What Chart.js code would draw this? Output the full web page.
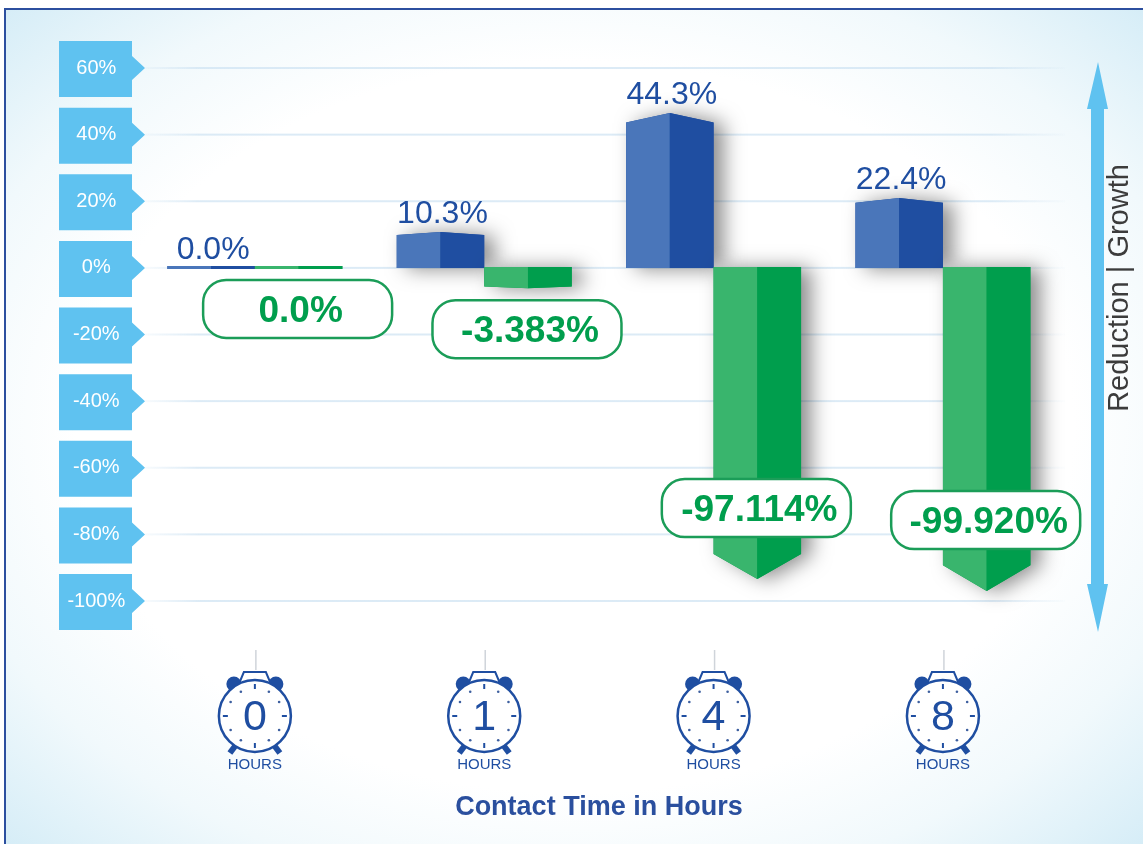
<!DOCTYPE html>
<html>
<head>
<meta charset="utf-8">
<title>Contact Time in Hours</title>
<script src="https://cdn.jsdelivr.net/npm/chart.js@4"></script>
<style>
    html, body { margin: 0; padding: 0; background: #fff; overflow: hidden; }
    #frame {
        position: absolute; left: 4px; top: 8px; width: 1139px; height: 836px;
        box-sizing: border-box;
        border-top: 2.5px solid #2c4f9f; border-left: 2.5px solid #2c4f9f;
        background: radial-gradient(ellipse farthest-corner at 50% 50%, #ffffff 62%, #f1f9fc 80%, #d6edf7 100%);
    }
    canvas { position: absolute; left: 0; top: 0; }
</style>
</head>
<body>
<div id="frame"></div>
<canvas id="chart" width="1143" height="844"></canvas>
<script>
'use strict'

// values
const hours = ["0", "1", "4", "8"];
const yTicks = [60, 40, 20, 0, -20, -40, -60, -80, -100];
// bar heights as they are drawn in the picture (peak / tip of each bar, in %)
const growthBars = [0, 10.8, 46.5, 21];
const reductionBars = [0, -6.1, -93.4, -97];
// the printed labels, which do not quite agree with the drawn heights
const growthLabels = ["0.0%", "10.3%", "44.3%", "22.4%"];
const reductionLabels = ["0.0%", "-3.383%", "-97.114%", "-99.920%"];

const FONT = "'Liberation Sans', Arial, sans-serif";
const NAVY = "#1f4ea1";
const SKY = "#5fc2f0";
const BLUE_LIGHT = "#4a76ba";
const GREEN_LIGHT = "#39b56d";
const GREEN_DARK = "#009e4d";

function polygon(ctx, pts, color) {
    ctx.fillStyle = color;
    ctx.beginPath();
    pts.forEach((p, i) => i ? ctx.lineTo(p[0], p[1]) : ctx.moveTo(p[0], p[1]));
    ctx.closePath();
    ctx.fill();
}

// flag shaped tick backgrounds on the left
function drawFlags(chart) {
    const ctx = chart.ctx;
    chart.scales.y.ticks.forEach(t => {
        const y = chart.scales.y.getPixelForValue(t.value);
        polygon(ctx, [[59, y - 27], [132, y - 27], [132, y - 12], [145, y], [132, y + 12], [132, y + 29], [59, y + 29]], SKY);
    });
}

// double headed arrow on the right, with its title
function drawArrow(chart) {
    const ctx = chart.ctx;
    polygon(ctx, [[1098, 62], [1108, 109], [1104, 109], [1104, 584], [1108, 584], [1098, 632], [1087, 584], [1091, 584], [1091, 109], [1087, 109]], SKY);
    ctx.save();
    ctx.translate(1120, 288);
    ctx.rotate(-Math.PI / 2);
    ctx.fillStyle = "#3c3c3c";
    ctx.font = "29px " + FONT;
    ctx.textAlign = "center";
    ctx.textBaseline = "middle";
    ctx.fillText("Reduction | Growth", 0, 0);
    ctx.restore();
}

// alarm clock round each x tick
function drawClock(ctx, x) {
    const y = 716;
    ctx.save();
    ctx.translate(x, y);
    ctx.strokeStyle = "#cfd4da";
    ctx.lineWidth = 1.5;
    ctx.beginPath(); ctx.moveTo(1, -66); ctx.lineTo(1, -46); ctx.stroke();

    ctx.strokeStyle = NAVY;
    ctx.lineWidth = 2;
    ctx.beginPath();
    ctx.moveTo(-16, -32); ctx.lineTo(-11, -44); ctx.lineTo(11, -44); ctx.lineTo(16, -32);
    ctx.stroke();

    ctx.fillStyle = NAVY;
    [-1, 1].forEach(side => {
        ctx.beginPath();
        ctx.arc(side * 21, -32, 7.5, 0, Math.PI * 2);
        ctx.fill();
        ctx.lineWidth = 6;
        ctx.beginPath();
        ctx.moveTo(side * 19, 29);
        ctx.lineTo(side * 25, 37);
        ctx.stroke();
    });

    ctx.fillStyle = "#fff";
    ctx.lineWidth = 2.5;
    ctx.beginPath();
    ctx.arc(0, 0, 36, 0, Math.PI * 2);
    ctx.fill();
    ctx.stroke();

    ctx.lineWidth = 2;
    for (let i = 0; i < 12; i++) {
        const a = i * Math.PI / 6;
        if (i % 3 === 0) {
            ctx.beginPath();
            ctx.moveTo(Math.cos(a) * 32, Math.sin(a) * 32);
            ctx.lineTo(Math.cos(a) * 27, Math.sin(a) * 27);
            ctx.stroke();
        } else {
            ctx.fillStyle = "#3d5f9f";
            ctx.beginPath();
            ctx.arc(Math.cos(a) * 28, Math.sin(a) * 28, 1.3, 0, Math.PI * 2);
            ctx.fill();
        }
    }
    ctx.restore();

    ctx.fillStyle = NAVY;
    ctx.font = "15px " + FONT;
    ctx.textAlign = "center";
    ctx.textBaseline = "middle";
    ctx.fillText("HOURS", x, 765);
}

// faded grid lines, they run a bit past the plot area on the right
function drawGrid(chart) {
    const ctx = chart.ctx;
    const grad = ctx.createLinearGradient(145, 0, 1065, 0);
    grad.addColorStop(0, "rgba(205,226,242,0.15)");
    grad.addColorStop(0.06, "rgba(205,226,242,0.7)");
    grad.addColorStop(0.92, "rgba(205,226,242,0.7)");
    grad.addColorStop(1, "rgba(205,226,242,0.05)");
    ctx.fillStyle = grad;
    chart.scales.y.ticks.forEach(t => {
        ctx.fillRect(145, chart.scales.y.getPixelForValue(t.value) - 1, 920, 2);
    });
}

// two coloured faces with a slanted end, drawn from the bar elements
function drawBar(ctx, el, light, dark) {
    const half = el.width / 2;
    const x0 = el.x - half, xm = el.x, x1 = el.x + half;
    const len = Math.abs(el.base - el.y);
    const up = el.y <= el.base && len > 0.5 ? -1 : 1;

    let base = el.base, tip = el.y, shoulder;
    if (len < 3) {
        base = el.base - 2; tip = el.base + 1; shoulder = tip;
    } else if (up < 0) {
        shoulder = tip + (1 + len * 0.055);
    } else {
        base = el.base - 1;
        shoulder = tip - len * 0.08;
    }

    ctx.save();
    if (len >= 3) {
        ctx.shadowColor = "rgba(0,0,0,0.45)";
        ctx.shadowBlur = 20;
        ctx.shadowOffsetX = 10;
        ctx.shadowOffsetY = 1;
    }
    polygon(ctx, [[x0, base], [x0, shoulder], [xm, tip], [x1, shoulder], [x1, base]], dark);
    ctx.restore();
    polygon(ctx, [[x0, base], [x0, shoulder], [xm, tip], [xm, base]], light);
    polygon(ctx, [[xm, base], [xm, tip], [x1, shoulder], [x1, base]], dark);
}

function drawBubble(ctx, cx, cy, text) {
    ctx.fillStyle = "#fff";
    ctx.strokeStyle = "#1b9d58";
    ctx.lineWidth = 2.5;
    ctx.beginPath();
    ctx.roundRect(cx - 94.5, cy - 29, 189, 58, 23);
    ctx.fill();
    ctx.stroke();
    ctx.fillStyle = GREEN_DARK;
    ctx.font = "bold 37px " + FONT;
    ctx.textAlign = "center";
    ctx.textBaseline = "middle";
    ctx.fillText(text, cx + 3, cy + 3);
}

const facePlugin = {
    id: "faces",
    beforeDraw(chart) {
        drawFlags(chart);
        drawArrow(chart);
        const xs = chart.scales.x;
        hours.forEach((h, i) => drawClock(chart.ctx, xs.getPixelForTick(i)));
    },
    beforeDatasetsDraw(chart) {
        drawGrid(chart);
        chart.getDatasetMeta(0).data.forEach(el => drawBar(chart.ctx, el, BLUE_LIGHT, NAVY));
        chart.getDatasetMeta(1).data.forEach(el => drawBar(chart.ctx, el, GREEN_LIGHT, GREEN_DARK));
    },
    // the bars are already drawn above, skip the default rectangles
    beforeDatasetDraw() {
        return false;
    },
    afterDatasetsDraw(chart) {
        const ctx = chart.ctx;
        chart.getDatasetMeta(0).data.forEach((el, i) => {
            ctx.fillStyle = NAVY;
            ctx.font = "32px " + FONT;
            ctx.textAlign = "center";
            ctx.textBaseline = "middle";
            ctx.fillText(growthLabels[i], el.x + 2, el.y - 18);
        });
        chart.getDatasetMeta(1).data.forEach((el, i) => {
            // short bars have the bubble below them, long ones across the tip
            const long = Math.abs(el.y - el.base) > 100;
            drawBubble(ctx, el.x - 1, long ? el.y - 71 : el.y + 41, reductionLabels[i]);
        });
    }
};

new Chart(document.getElementById("chart"), {
    type: "bar",
    data: {
        labels: hours,
        datasets: [
            { label: "Growth", data: growthBars, backgroundColor: BLUE_LIGHT },
            { label: "Reduction", data: reductionBars, backgroundColor: GREEN_LIGHT }
        ]
    },
    plugins: [facePlugin],
    options: {
        responsive: false,
        animation: false,
        events: [],
        categoryPercentage: 0.763,
        barPercentage: 1,
        layout: { padding: { top: 68, right: 85.4, bottom: 0, left: 0 } },
        plugins: { legend: { display: false }, tooltip: { enabled: false }, title: { display: false } },
        scales: {
            x: {
                grid: { display: false, drawTicks: false },
                border: { display: false },
                ticks: { color: NAVY, font: { family: FONT, size: 43 }, padding: 91, maxRotation: 0, autoSkip: false },
                title: {
                    display: true,
                    text: "Contact Time in Hours",
                    color: "#2a4f9e",
                    font: { family: FONT, size: 27, weight: "bold" },
                    padding: { top: 0, bottom: 20 }
                },
                afterFit(axis) { axis.height = 243; }
            },
            y: {
                min: -100,
                max: 60,
                grid: { display: false, drawTicks: false },
                border: { display: false },
                afterBuildTicks(axis) { axis.ticks = yTicks.map(v => ({ value: v })); },
                ticks: {
                    color: "#fff",
                    font: { family: FONT, size: 20 },
                    crossAlign: "center",
                    padding: 15,
                    callback: v => v + "%"
                },
                afterFit(axis) { axis.width = 140.2; }
            }
        }
    }
});
</script>
</body>
</html>
